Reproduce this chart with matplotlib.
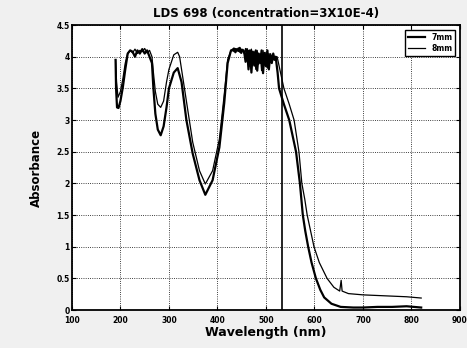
import numpy as np
import matplotlib.pyplot as plt

# absorbance spectra
wl_a = [190, 192, 195, 200, 205, 210, 215, 220, 225, 230, 235, 240, 245, 250, 255, 260,
        265, 268, 272, 277, 283, 289, 295, 300, 310, 318, 322, 330, 336, 349, 363, 375,
        390, 404, 414, 421, 428,
        431, 434, 437, 440, 443, 446, 449, 452, 455, 458, 461, 464, 467, 470, 473, 476,
        479, 482, 485, 488, 491, 494, 497, 500, 503, 506, 509, 512, 515, 518,
        523, 530, 537, 548, 558, 563, 568, 571, 574, 580, 585, 592, 599, 610, 626, 640,
        652, 655, 657, 670, 700, 730, 760, 790, 820]
abs_a = [3.95, 3.6, 3.36, 3.45, 3.65, 3.9, 4.05, 4.1, 4.06, 4.12, 4.05, 4.1, 4.08, 4.13, 4.06, 4.1,
         4.0, 3.75, 3.45, 3.25, 3.2, 3.3, 3.6, 3.8, 4.03, 4.07, 4.0, 3.6, 3.3, 2.65, 2.2, 1.99,
         2.2, 2.7, 3.4, 3.95, 4.1,
         4.12, 4.08, 4.13, 4.1, 4.14, 4.07, 4.12, 4.1, 4.05, 4.13, 3.95, 4.1, 3.85, 4.12, 3.9, 4.08,
         3.8, 4.1, 3.88, 4.05, 3.78, 4.1, 3.9, 4.07, 3.82, 4.05, 3.92, 4.02, 3.95, 4.0,
         4.0, 3.75, 3.5, 3.25, 3.0, 2.75, 2.5, 2.25, 2.0, 1.75, 1.5, 1.25, 1.0, 0.75, 0.5, 0.36,
         0.3, 0.47, 0.3, 0.26, 0.24, 0.23, 0.22, 0.21, 0.19]

wl_b = [190, 191, 193, 196, 200, 205, 210, 215, 220, 225, 230, 235, 240, 245, 250, 255, 260,
        265, 268, 272, 277, 283, 289, 295, 300, 310, 318, 326, 336, 349, 363, 375,
        390, 404, 414, 421, 428,
        431, 434, 437, 440, 443, 446, 449, 452, 455, 458, 461, 464, 467, 470, 473, 476,
        479, 482, 485, 488, 491, 494, 497, 500, 503, 506, 509, 512, 515, 518,
        520, 524, 527, 537, 548, 555, 562, 566, 570, 576, 581, 587, 594, 603, 612, 620,
        635, 654, 680, 700, 730, 760, 790, 820]
abs_b = [3.95, 3.5, 3.2, 3.19, 3.3, 3.52, 3.8, 4.05, 4.1, 4.08, 4.0, 4.1, 4.05, 4.12, 4.05, 4.1, 4.0,
         3.9, 3.5, 3.1, 2.85, 2.76, 2.9, 3.2, 3.5, 3.75, 3.82, 3.6, 3.0, 2.47, 2.05, 1.82,
         2.05, 2.57, 3.27, 3.9, 4.1,
         4.1, 4.13, 4.07, 4.12, 4.09, 4.14, 4.06, 4.11, 4.08, 3.92, 4.12, 3.8, 4.1, 3.75, 4.08, 3.86,
         4.1, 3.78, 4.05, 3.9, 4.1, 3.74, 4.06, 3.85, 4.1, 3.8, 4.04, 3.9, 4.05, 3.95,
         4.0, 3.75, 3.5, 3.25, 3.0, 2.75, 2.5, 2.25, 2.0, 1.5, 1.25, 1.0, 0.75, 0.5, 0.32, 0.2,
         0.1, 0.05, 0.04, 0.04, 0.05, 0.05, 0.06, 0.04]

marker_wl = 533
x_ticks = [100, 200, 300, 400, 500, 600, 700, 800, 900]
y_ticks = [0, 0.5, 1, 1.5, 2, 2.5, 3, 3.5, 4, 4.5]

fig = plt.figure(figsize=(4.67, 3.48), dpi=100, facecolor='#f0f0f0')
ax = fig.add_axes([0.154, 0.109, 0.831, 0.819])
ax.set_facecolor('white')

ax.plot(wl_b, abs_b, color='black', lw=1.6, label='7mm')
ax.plot(wl_a, abs_a, color='black', lw=0.9, label='8mm')
ax.axvline(marker_wl, color='black', lw=1.2)

ax.set_xlim(100, 900)
ax.set_ylim(0, 4.5)
ax.set_xticks(x_ticks)
ax.set_yticks(y_ticks)
ax.set_xticklabels([str(t) for t in x_ticks], fontsize=5.5, fontweight='bold')
ax.set_yticklabels([('%g' % t) for t in y_ticks], fontsize=5.5, fontweight='bold')
ax.tick_params(direction='in', top=True, right=True, length=3, width=0.8, pad=1.5)
ax.tick_params(axis='x', pad=4)
ax.grid(True, linestyle=':', color='black', lw=0.6)
for s in ax.spines.values():
    s.set_linewidth(1.3)

ax.set_title('LDS 698 (concentration=3X10E-4)', fontsize=8.5, fontweight='bold', pad=6)
ax.set_xlabel('Wavelength (nm)', fontsize=9, fontweight='bold', labelpad=1)
ax.set_ylabel('Absorbance', fontsize=8.5, fontweight='bold', labelpad=10)

leg = ax.legend(loc='upper right', prop={'weight': 'bold', 'size': 5.5},
                handlelength=2.2, borderpad=0.4, labelspacing=0.3, fancybox=False,
                edgecolor='black', framealpha=1, borderaxespad=0.6)
leg.get_frame().set_linewidth(1.0)

fig.savefig('out.png', dpi=100, facecolor=fig.get_facecolor())
